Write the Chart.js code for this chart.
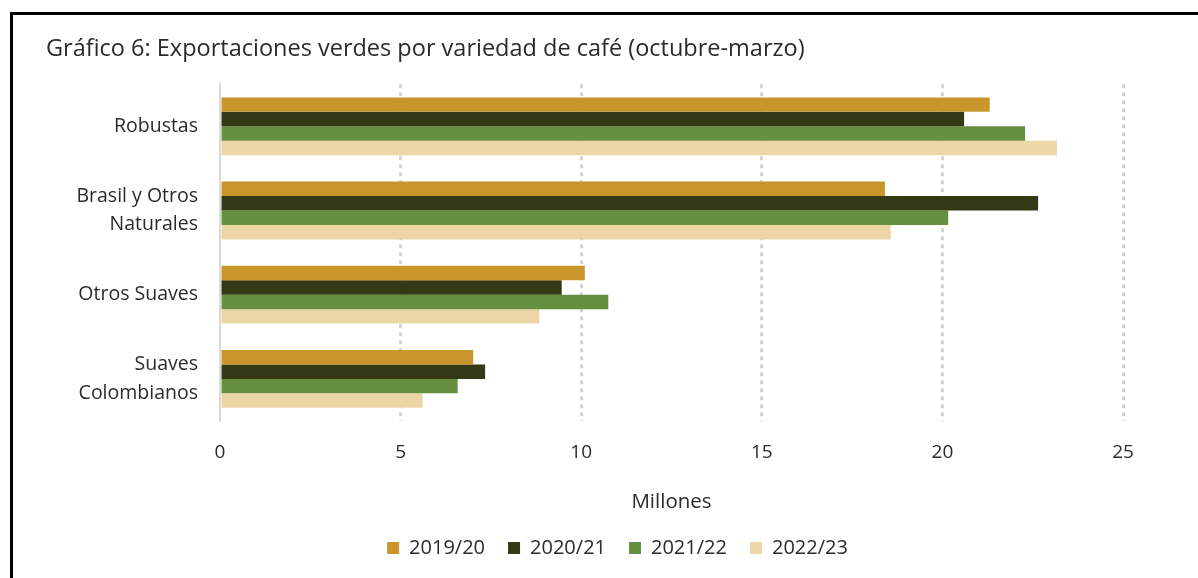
<!DOCTYPE html>
<html>
<head>
<meta charset="utf-8">
<script src="https://cdn.jsdelivr.net/npm/chart.js@4.4.1/dist/chart.umd.min.js"></script>
<style>
  html, body { margin: 0; padding: 0; background: #fff; }
  #wrap { position: relative; width: 1198px; height: 578px; overflow: hidden; }
  #frame {
    position: absolute; left: 10px; top: 12px; width: 1400px; height: 800px;
    border-top: 3px solid #000; border-left: 3px solid #000; pointer-events: none;
  }
  canvas { position: absolute; left: 0; top: 0; }
</style>
</head>
<body>
<div id="wrap">
  <canvas id="cafeChart" width="1198" height="578"></canvas>
  <div id="frame"></div>
</div>
<script>
// Exportaciones verdes por variedad (millones de sacos), octubre-marzo
var categories = [
  'Robustas',
  ['Brasil y Otros', 'Naturales'],
  'Otros Suaves',
  ['Suaves', 'Colombianos']
];
var seasons = ['2019/20', '2020/21', '2021/22', '2022/23'];

var values1920 = [21.31, 18.41, 10.10, 7.01];
var values2021 = [20.60, 22.65, 9.46, 7.34];
var values2122 = [22.29, 20.16, 10.75, 6.58];
var values2223 = [23.17, 18.57, 8.84, 5.61];

var xTicks = [0, 5, 10, 15, 20, 25];

var seriesColors = ['#c9962b', '#333815', '#678f40', '#ecd6a6'];

var fontFamily = '"Open Sans", "Noto Sans", sans-serif';
var textColor = '#2b2b2b';

var seriesValues = [values1920, values2021, values2122, values2223];

// the legend sits centred on the whole frame, not on the plot area
var legendShift = {
  id: 'legendShift',
  afterLayout: function (chart) {
    chart.legend.left += 33;
    chart.legend.right += 33;
  }
};

new Chart(document.getElementById('cafeChart'), {
  type: 'bar',
  data: {
    labels: categories,
    datasets: seasons.map(function (season, i) {
      return {
        label: season,
        data: seriesValues[i],
        backgroundColor: seriesColors[i],
        borderWidth: 0,
        categoryPercentage: 0.686,
        barPercentage: 1.0
      };
    })
  },
  options: {
    indexAxis: 'y',
    responsive: false,
    animation: false,
    layout: { padding: { left: 46, right: 75, top: 0, bottom: 10 } },
    plugins: {
      title: {
        display: true,
        text: 'Gráfico 6: Exportaciones verdes por variedad de café (octubre-marzo)',
        align: 'start',
        color: textColor,
        font: { family: fontFamily, size: 23.5, weight: 'normal', lineHeight: 1.2 },
        padding: { top: 35, bottom: 21 }
      },
      legend: {
        position: 'bottom',
        labels: {
          color: textColor,
          font: { family: fontFamily, size: 20 },
          boxWidth: 12,
          boxHeight: 12,
          padding: 23
        }
      },
      tooltip: { enabled: false }
    },
    scales: {
      x: {
        min: 0,
        max: 25,
        afterBuildTicks: function (scale) {
          scale.ticks = xTicks.map(function (v) { return { value: v }; });
        },
        afterFit: function (scale) { scale.height = 94; },
        border: { display: false, dash: [4, 4] },
        grid: {
          drawTicks: false,
          color: function (ctx) { return ctx.tick && ctx.tick.value === 0 ? 'rgba(0,0,0,0)' : '#d4d4d4'; },
          lineWidth: 3
        },
        ticks: {
          color: textColor,
          font: { family: fontFamily, size: 19 },
          padding: 20
        },
        title: {
          display: true,
          text: 'Millones',
          color: textColor,
          font: { family: fontFamily, size: 20.5 },
          padding: { top: 0, bottom: 1 }
        }
      },
      y: {
        afterFit: function (scale) { scale.width = 174; },
        border: { display: true, color: '#d9d9d9', width: 2 },
        grid: { display: false, drawTicks: false },
        ticks: {
          color: textColor,
          font: { family: fontFamily, size: 19.5, lineHeight: 1.45 },
          padding: 22
        }
      }
    }
  },
  plugins: [legendShift]
});
</script>
</body>
</html>
